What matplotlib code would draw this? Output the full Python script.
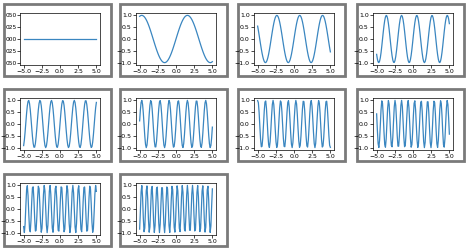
import numpy as np
import matplotlib.pyplot as plt
from matplotlib.patches import Rectangle

# frequencies of each panel: y = sin(k * x)
freqs = [0, 1, 2, 3, 4, 5, 6, 7, 8, 9]
x_min, x_max, n_pts = -5.0, 5.0, 100
xticks = [-5.0, -2.5, 0.0, 2.5, 5.0]

W, H = 474, 252
fig = plt.figure(figsize=(W / 100, H / 100), dpi=100)

# panel boxes in pixels (left, top, width, height)
col_x = [4, 120, 238, 357]
row_y = [4, 89, 174]
pw, ph = 107, 72

x = np.linspace(x_min, x_max, n_pts)
for i, k in enumerate(freqs):
    r, c = divmod(i, 4)
    px, py = col_x[c], row_y[r]
    fig.patches.append(Rectangle((px / W, 1 - (py + ph) / H), pw / W, ph / H,
                                 transform=fig.transFigure, fill=False,
                                 edgecolor='#7a7a7a', linewidth=2.0,
                                 zorder=-1))
    ax = fig.add_axes([(px + 16) / W, 1 - (py + 61) / H, 80 / W, 52 / H])
    ax.plot(x, np.sin(k * x), color='#3a86c0', linewidth=0.9)
    ax.set_xticks(xticks)
    ax.tick_params(labelsize=4.5, length=2, width=0.5, pad=1)
    for s in ax.spines.values():
        s.set_linewidth(0.5)
    if k == 0:
        ax.set_ylim(-0.055, 0.055)
        ax.set_yticks([-0.05, -0.025, 0, 0.025, 0.05])
        ax.set_yticklabels(['050', '025', '000', '025', '050'])
        ax.tick_params(axis='y', labelsize=4.2, pad=0.5)
    else:
        ax.set_yticks([-1.0, -0.5, 0.0, 0.5, 1.0])

fig.savefig('out.png', dpi=100)
